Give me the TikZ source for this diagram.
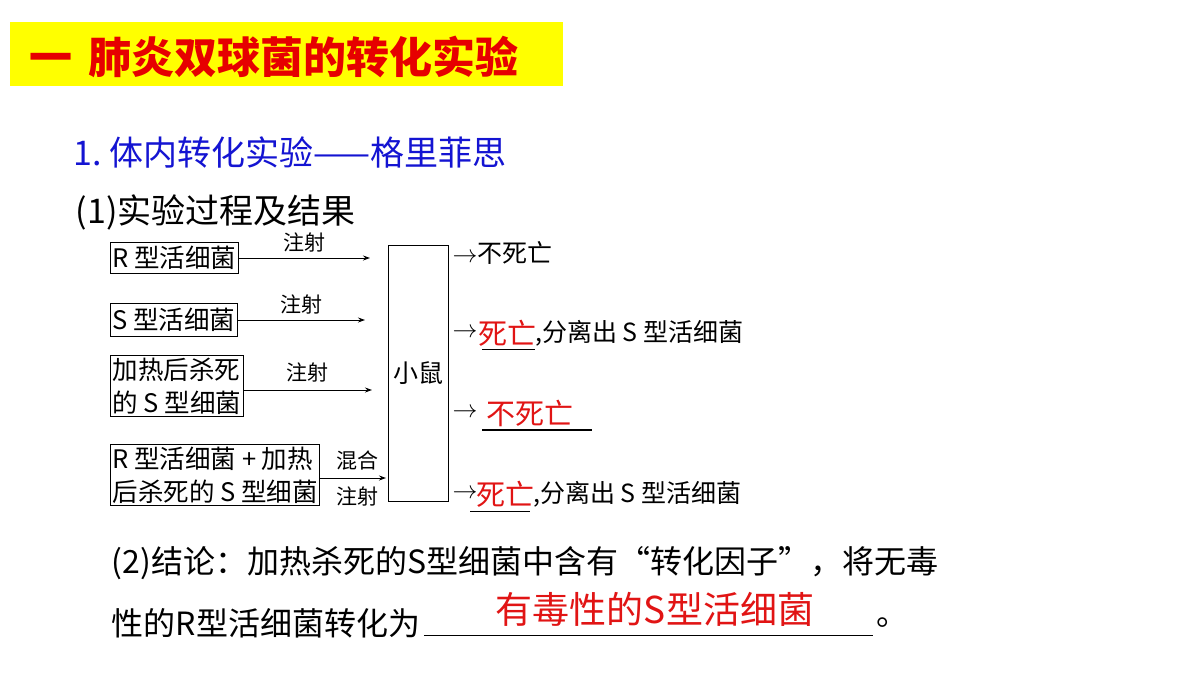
\documentclass[tikz,border=0pt]{standalone}
\usepackage{fontspec}
\setmainfont{Liberation Serif}
\newfontfamily\cjk{Noto Sans CJK SC}
\usetikzlibrary{positioning,arrows.meta}
\definecolor{titleyellow}{RGB}{255,255,0}
\definecolor{titlered}{RGB}{230,0,0}
\definecolor{headblue}{RGB}{20,20,210}
\definecolor{penred}{RGB}{225,20,20}
\begin{document}
\begin{tikzpicture}[x=1pt,y=-1pt,>={Stealth[length=7pt,width=5pt]},line width=1pt,
                    font=\cjk\fontsize{25}{30}\selectfont]

  \tikzset{cellbox/.style={draw,rectangle,align=left,inner sep=2pt,
                           font=\cjk\fontsize{25.5}{33}\selectfont},
           inject/.style={font=\cjk\fontsize{21}{24}\selectfont,inner sep=1pt},
           outcome/.style={anchor=west,inner sep=0pt},
           redmark/.style={anchor=west,inner sep=0pt,text=penred,
                           font=\cjk\fontsize{29}{30}\selectfont}}

  \useasboundingbox[fill=white] (0,0) rectangle (1200,675);

  % heading
  \fill[titleyellow] (10,22) rectangle (563,86);
  \node[anchor=west,text=titlered,font=\cjk\bfseries\fontsize{43}{48}\selectfont]
       (title) at (26,57) {一\hspace{16pt}肺炎双球菌的转化实验};
  \node[anchor=west,text=headblue,font=\cjk\fontsize{34}{36}\selectfont]
       (sub) at (70,152) {1.\ 体内转化实验——格里菲思};
  \node[anchor=west,font=\cjk\fontsize{34}{36}\selectfont]
       (step1) at (72,212) {(1)实验过程及结果};

  % inputs
  \node[cellbox,anchor=north west,minimum height=31pt] (R) at (110,242) {R 型活细菌};
  \node[cellbox,anchor=north west,minimum height=33pt] (S) at (110,303) {S 型活细菌};
  \node[cellbox,anchor=north west] (HS) at (110,355) {加热后杀死\\的 S 型细菌};
  \node[cellbox,anchor=north west] (MIX) at (110,444) {R 型活细菌 + 加热\\后杀死的 S 型细菌};

  % mouse
  \node[draw,minimum width=60pt,minimum height=256pt,anchor=north west] (mouse) at (388,245) {};
  \node (mousetxt) at (mouse.center) {小鼠};

  \coordinate (rR) at (370,258);
  \coordinate (rS) at (365,320);
  \coordinate (rH) at (372,390);
  \coordinate (rM) at (386,478);

  \draw[->] (R.east |- rR) -- node[inject,above=4pt] {注射} (rR);
  \draw[->] (S.east |- rS) -- node[inject,above=4pt] {注射} (rS);
  \draw[->] (HS.east |- rH) -- node[inject,above=6pt] {注射} (rH);
  \draw[->] (MIX.east |- rM) -- (rM);
  \node[inject] (mixa) at (357,461) {混合};
  \node[inject] (mixb) at (357,496) {注射};

  % outcomes
  \node[outcome] (o1) at (452,253) {$\rightarrow$不死亡};
  \node[outcome] (a2) at (452,333) {$\rightarrow$};
  \node[redmark] (d2) at (a2.east) {死亡};
  \node[outcome] (t2) at ([xshift=-2pt]d2.east) {,分离出 S 型活细菌};
  \node[outcome] (a3) at (452,413) {$\rightarrow$};
  \node[redmark,xshift=8pt] (d3) at (a3.east) {不死亡};
  \node[outcome] (a4) at (452,494) {$\rightarrow$};
  \node[redmark,xshift=-2pt] (d4) at (a4.east) {死亡};
  \node[outcome] (t4) at ([xshift=-2pt]d4.east) {,分离出 S 型活细菌};
  \draw (482,349) -- (535,349);
  \draw[line width=1.5pt] (482,430) -- (592,430);
  \draw (470,511) -- (530,511);

  % conclusion
  \node[anchor=west,font=\cjk\fontsize{32}{36}\selectfont]
       (con1) at (108,563) {(2)结论：加热杀死的S型细菌中含有“转化因子”，将无毒};
  \node[anchor=west,font=\cjk\fontsize{32}{36}\selectfont]
       (con2) at (108,623) {性的R型活细菌转化为};
  \coordinate (lineend) at (873,635);
  \draw[line width=0.8pt] (con2.east |- lineend) -- (lineend);
  \node[anchor=west,font=\cjk\fontsize{32}{36}\selectfont] (stop) at (873,623) {。};
  \node[text=penred,font=\cjk\fontsize{37}{40}\selectfont] (answer) at (655,609) {有毒性的S型活细菌};
\end{tikzpicture}
\end{document}
